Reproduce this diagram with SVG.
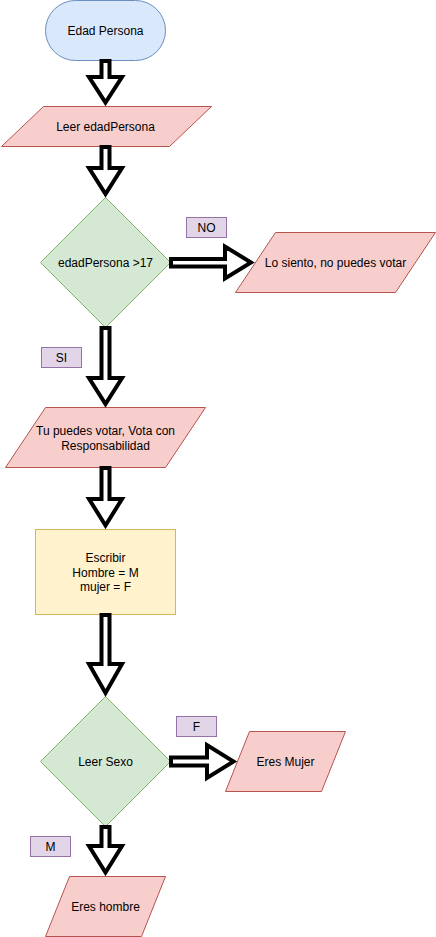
<svg xmlns="http://www.w3.org/2000/svg" width="436" height="937" viewBox="0 0 436 937">
<style>
text{font-family:"Liberation Sans",Arial,Helvetica,sans-serif;font-size:12px;fill:#000;text-anchor:middle}
.term{fill:#dae8fc;stroke:#6c8ebf}
.io{fill:#f8cecc;stroke:#b85450}
.dec{fill:#d5e8d4;stroke:#82b366}
.proc{fill:#fff2cc;stroke:#d6b656}
.lbl{fill:#e1d5e7;stroke:#9673a6}
.arr{fill:#fff;stroke:#000;stroke-width:4;stroke-linejoin:miter;stroke-miterlimit:10}
</style>
<rect width="436" height="937" fill="#fff"/>
<g id="n-edad-persona">
<rect class="term" x="45.5" y="0.5" width="120" height="60" rx="30"/>
<text x="105.5" y="34.5">Edad Persona</text>
</g>
<g id="n-leer-edad">
<polygon class="io" points="43.5,106.5 211.5,106.5 169.5,146.5 1.5,146.5"/>
<text x="105.5" y="130.5">Leer edadPersona</text>
</g>
<g id="n-decision-edad">
<polygon class="dec" points="105.5,197.5 170.5,262.5 105.5,327.5 40.5,262.5"/>
<text x="105.5" y="266.5">edadPersona &gt;17</text>
</g>
<g id="n-no-votar">
<polygon class="io" points="275.5,232.5 435.5,232.5 395.5,292.5 235.5,292.5"/>
<text x="335.5" y="266.5">Lo siento, no puedes votar</text>
</g>
<g id="n-si-votar">
<polygon class="io" points="45.5,407.5 205.5,407.5 165.5,467.5 5.5,467.5"/>
<text x="105.5" y="435">Tu puedes votar, Vota con</text>
<text x="105.5" y="450">Responsabilidad</text>
</g>
<g id="n-escribir">
<rect class="proc" x="35.5" y="529.5" width="140" height="85"/>
<text x="105.5" y="562">Escribir</text>
<text x="105.5" y="577">Hombre = M</text>
<text x="105.5" y="591">mujer = F</text>
</g>
<g id="n-leer-sexo">
<polygon class="dec" points="105.5,696.5 170.5,761.5 105.5,826.5 40.5,761.5"/>
<text x="105.5" y="765.5">Leer Sexo</text>
</g>
<g id="n-mujer">
<polygon class="io" points="249.5,731.5 345.5,731.5 321.5,791.5 225.5,791.5"/>
<text x="285.5" y="765.5">Eres Mujer</text>
</g>
<g id="n-hombre">
<polygon class="io" points="69.5,876.5 165.5,876.5 141.5,936.5 45.5,936.5"/>
<text x="105.5" y="910.5">Eres hombre</text>
</g>
<g id="connectors">
<path class="arr" d="M101.5,61 L101.5,77 L89,77 L105.5,102.5 L122,77 L109.5,77 L109.5,61 Z"/>
<path class="arr" d="M101.5,147 L101.5,168 L89,168 L105.5,194 L122,168 L109.5,168 L109.5,147 Z"/>
<path class="arr" d="M101.5,328 L101.5,378 L89,378 L105.5,404 L122,378 L109.5,378 L109.5,328 Z"/>
<path class="arr" d="M101.5,468 L101.5,499 L89,499 L105.5,525.5 L122,499 L109.5,499 L109.5,468 Z"/>
<path class="arr" d="M101.5,615 L101.5,664 L89,664 L105.5,693 L122,664 L109.5,664 L109.5,615 Z"/>
<path class="arr" d="M101.5,827 L101.5,846 L89,846 L105.5,872.5 L122,846 L109.5,846 L109.5,827 Z"/>
<path class="arr" d="M171,259 L225,259 L225,246.5 L251,262.5 L225,278.5 L225,266.5 L171,266.5 Z"/>
<path class="arr" d="M171,757.5 L207,757.5 L207,745 L233.5,761.5 L207,778 L207,765.5 L171,765.5 Z"/>
</g>
<g id="labels">
<g id="l-no"><rect class="lbl" x="186.5" y="217.5" width="40" height="20"/><text x="206.5" y="231.5">NO</text></g>
<g id="l-si"><rect class="lbl" x="41.5" y="347.5" width="40" height="20"/><text x="61.5" y="361.5">SI</text></g>
<g id="l-f"><rect class="lbl" x="176.5" y="716.5" width="40" height="20"/><text x="196.5" y="730.5">F</text></g>
<g id="l-m"><rect class="lbl" x="30.5" y="836.5" width="40" height="20"/><text x="50.5" y="850.5">M</text></g>
</g>
</svg>
